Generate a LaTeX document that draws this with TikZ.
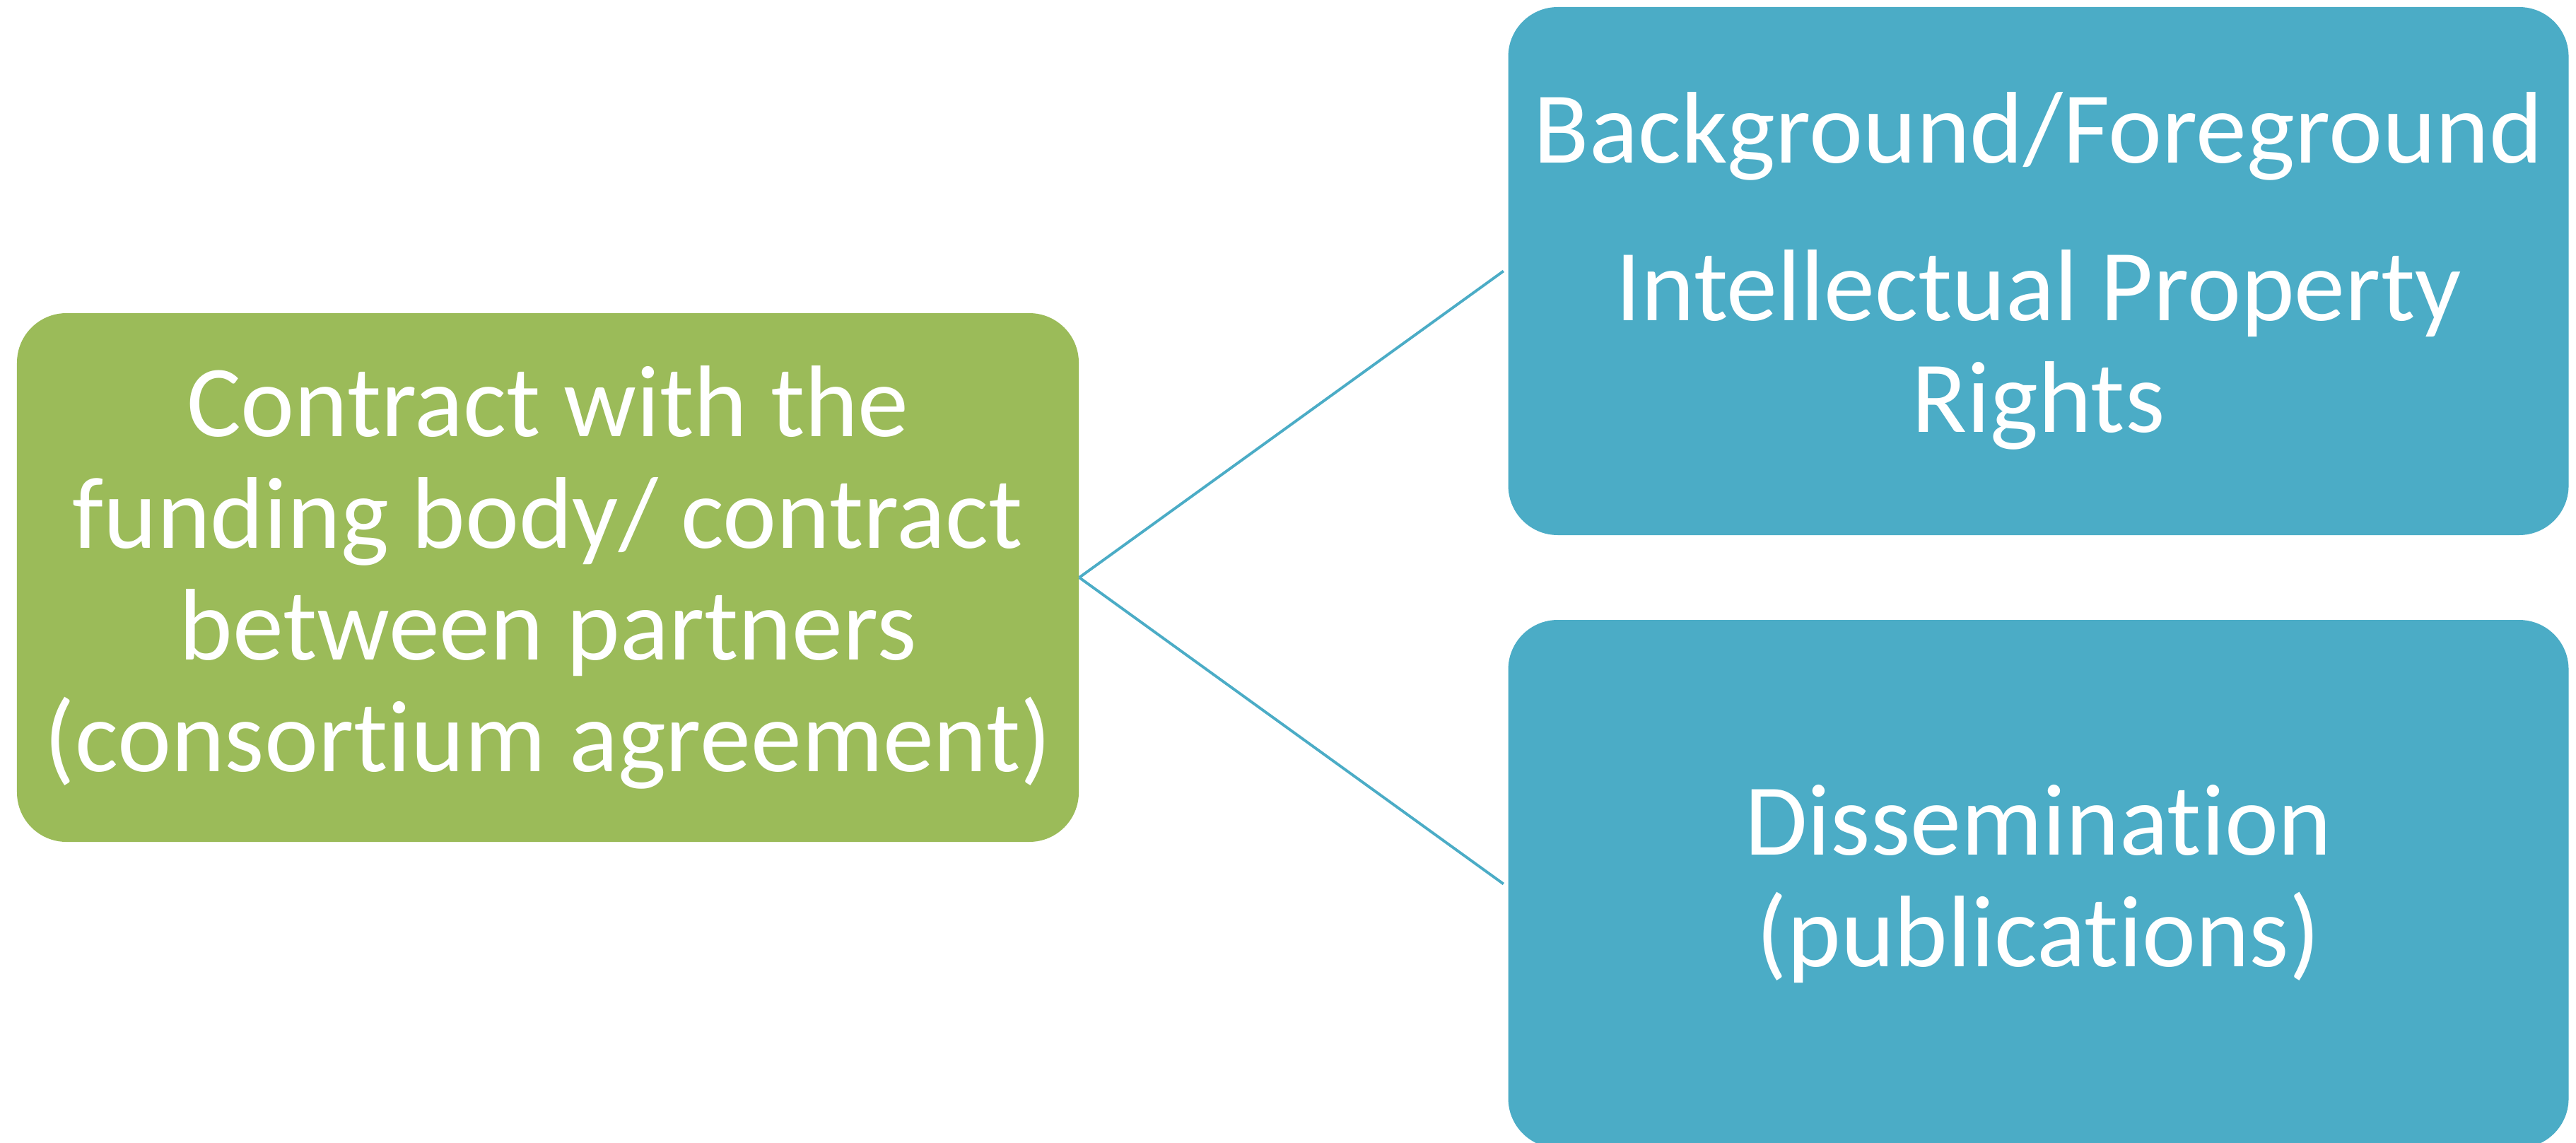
\documentclass[tikz,border=0pt]{standalone}
\usepackage{fontspec}
\setmainfont[Ligatures={NoCommon}]{Carlito}
\usepackage{tikz}
\definecolor{cagreen}{HTML}{9BBB59}
\definecolor{cablue}{HTML}{4BACC6}

\begin{document}
\begin{tikzpicture}[
  box/.style={rounded corners=0.7cm,inner sep=0pt,minimum width=15cm,minimum height=7.47cm,
    text=white,align=center,font=\fontsize{41}{45}\selectfont},
  link/.style={cablue,line width=1.1pt}]
  \useasboundingbox (0,0) rectangle (36.44,-16.17);
  \node[box,fill=cagreen,minimum width=15.02cm,minimum height=7.48cm] (contract) at (7.75,-8.17)
    {Contract with the\\funding body/ contract\\between partners\\(consortium agreement)};
  \node[box,fill=cablue] (ipr) at (28.835,-3.835)
    {Background/Foreground\\[0.65cm]Intellectual Property\\Rights};
  \node[box,fill=cablue] (dissem) at (28.835,-12.505)
    {Dissemination\\(publications)};
  \draw[link] (contract.east) -- ([xshift=-0.06cm]ipr.west);
  \draw[link] (contract.east) -- ([xshift=-0.06cm]dissem.west);
\end{tikzpicture}
\end{document}
